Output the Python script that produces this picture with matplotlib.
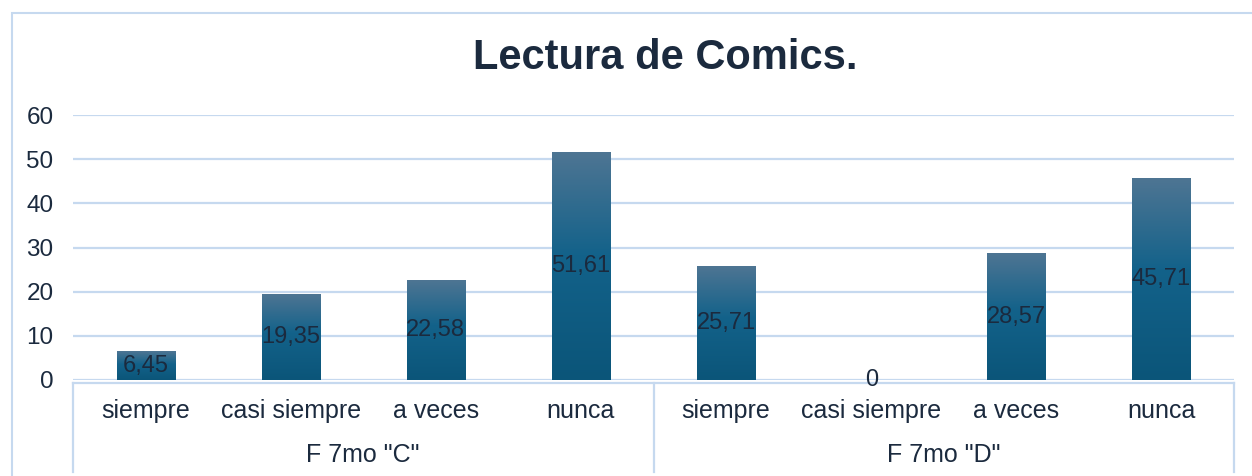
"""
Bar chart: Lectura de Comics, two groups (F 7mo "C" / F 7mo "D")
with a two-level category axis and gradient-filled bars.
"""

import numpy as np
import matplotlib.pyplot as plt
from matplotlib.colors import LinearSegmentedColormap
from matplotlib.patches import Rectangle
import matplotlib.transforms as mtransforms

plt.rcParams['font.family'] = ['Liberation Sans', 'DejaVu Sans']

# data
groups = ['F 7mo "C"', 'F 7mo "D"']
categories = ['siempre', 'casi siempre', 'a veces', 'nunca']
values_c = [6.45, 19.35, 22.58, 51.61]
values_d = [25.71, 0, 28.57, 45.71]
yticks = [0, 10, 20, 30, 40, 50, 60]

values = values_c + values_d
labels = categories + categories
x = np.arange(len(values))

text_col = '#1b2a3e'
grid_col = '#c6d9ef'
cmap = LinearSegmentedColormap.from_list(
    'bar', [(0.0, '#0b5579'), (0.55, '#13628a'), (1.0, '#4e7593')])

fig = plt.figure(figsize=(12.52, 4.76), dpi=100)
ax = fig.add_axes([73 / 1252, 96 / 476, 1161 / 1252, 265 / 476])

# outer frame of the chart object
fig.patches.append(Rectangle((12 / 1252, -0.1), 1.2, (476 - 13) / 476 + 0.1,
                             transform=fig.transFigure, fill=False,
                             edgecolor=grid_col, lw=1.5))

ax.set_xlim(-0.5, len(values) - 0.5)
ax.set_ylim(0, 60)
ax.set_yticks(yticks)
ax.yaxis.grid(True, color=grid_col, lw=1.6)
ax.set_axisbelow(True)
for s in ax.spines.values():
    s.set_visible(False)
ax.tick_params(axis='y', length=0, pad=14, labelsize=17.5, labelcolor=text_col)
ax.tick_params(axis='x', length=0)
ax.set_xticks([])

# gradient bars
width = 0.40
grad = np.linspace(0, 1, 256).reshape(-1, 1)
for xi, v in zip(x, values):
    if v <= 0:
        continue
    ax.imshow(grad, extent=[xi - width / 2, xi + width / 2, 0, v],
              origin='lower', cmap=cmap, aspect='auto', zorder=2,
              interpolation='bilinear')
    ax.text(xi, v / 2, f'{v:.2f}'.replace('.', ','), ha='center', va='center',
            fontsize=17, color=text_col, zorder=3)

# zero label
for xi, v in zip(x, values):
    if v == 0:
        ax.text(xi, 0, '0', ha='center', va='center', fontsize=17,
                color=text_col, zorder=3)
ax.set_xlim(-0.5, len(values) - 0.5)
ax.set_ylim(0, 60)

# two-level category axis
trans = mtransforms.blended_transform_factory(ax.transData, fig.transFigure)
y_line = (476 - 383) / 476
ax.plot([-0.5, 7.5], [y_line, y_line], color=grid_col, lw=1.6,
        transform=trans, clip_on=False)
for xv in [-0.5, 3.5, 7.5]:
    ax.plot([xv, xv], [y_line, (476 - 472) / 476], color=grid_col, lw=1.6,
            transform=trans, clip_on=False)
for xi, lab in zip(x, labels):
    ax.text(xi, (476 - 411) / 476, lab, ha='center', va='center',
            fontsize=18, color=text_col, transform=trans)
for gi, g in enumerate(groups):
    ax.text(gi * 4 + 1.5, (476 - 455) / 476, g, ha='center', va='center',
            fontsize=18, color=text_col, transform=trans)

fig.text(665 / 1252, (476 - 58) / 476, 'Lectura de Comics.', ha='center',
         va='center', fontsize=30, fontweight='bold', color=text_col)

fig.savefig('out.png', dpi=100)
